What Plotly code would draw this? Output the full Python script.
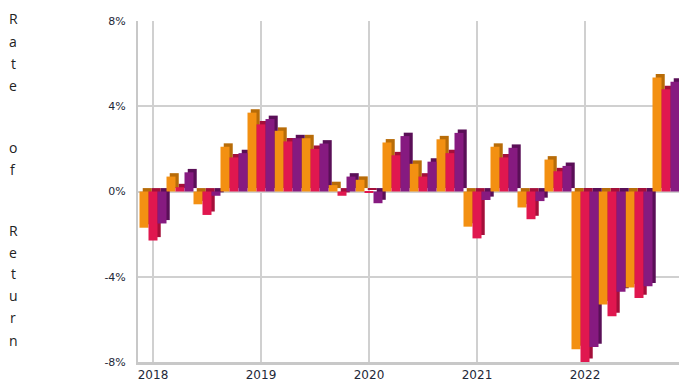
import plotly.graph_objects as go

# Quarterly rate of return (%) for three series, 2018 Q1 – 2022 Q4
quarters = [f"{y} Q{q}" for y in range(2018, 2023) for q in range(1, 5)]
series_a = [-1.7, 0.7, -0.6, 2.1, 3.7, 2.85, 2.5, 0.3,
            0.55, 2.3, 1.3, 2.45, -1.65, 2.1, -0.75, 1.5,
            -7.4, -5.3, -4.5, 5.35]
series_b = [-2.3, 0.2, -1.1, 1.6, 3.15, 2.35, 2.0, -0.2,
            -0.05, 1.7, 0.7, 1.8, -2.2, 1.6, -1.3, 0.95,
            -8.0, -5.85, -5.0, 4.8]
series_c = [-1.5, 0.9, -0.2, 1.8, 3.4, 2.5, 2.25, 0.7,
            -0.55, 2.6, 1.4, 2.75, -0.4, 2.05, -0.45, 1.2,
            -7.3, -4.7, -4.45, 5.15]
years = [2018, 2019, 2020, 2021, 2022]
y_ticks = [-8, -4, 0, 4, 8]
y_title = "Rate of Return"

front_colors = ["#F39012", "#E0174F", "#861A80"]
side_colors = ["#B86C08", "#A40F3A", "#5A0F57"]

# numeric position of each quarter (year + fraction)
xpos = [int(q[:4]) + (int(q[-1]) - 1) * 0.25 for q in quarters]

slot = 0.25 / 3          # width reserved for each series in a quarter
dx = 0.03                # depth shift to the right (years)
dy = 0.16                # depth shift upward (%)

fig = go.Figure()
all_series = [series_a, series_b, series_c]

# depth faces first so every front face sits above them
for i, vals in enumerate(all_series):
    off = -0.125 + i * slot + dx
    fig.add_trace(go.Bar(
        x=xpos, y=vals, base=[dy] * len(vals),
        width=slot, offset=off,
        marker=dict(color=side_colors[i], line=dict(width=0)),
        hoverinfo="skip", showlegend=False,
    ))
for i, vals in enumerate(all_series):
    off = -0.125 + i * slot
    fig.add_trace(go.Bar(
        x=xpos, y=vals,
        width=slot, offset=off,
        marker=dict(color=front_colors[i], line=dict(width=0)),
        showlegend=False,
    ))

plot_top, plot_bottom = 21, 362
x0 = 2018 - 15 / 108
x1 = x0 + 541 / 108

fig.update_layout(
    width=679, height=388,
    margin=dict(l=138, r=0, t=plot_top, b=388 - plot_bottom),
    barmode="overlay",
    paper_bgcolor="white", plot_bgcolor="white",
    font=dict(family="DejaVu Sans", size=11, color="#1E2838"),
    xaxis=dict(
        range=[x0, x1], tickvals=years, ticktext=[str(y) for y in years],
        showgrid=True, gridcolor="#D0D0D0", gridwidth=2,
        showline=True, linecolor="#C8C8C8", linewidth=3,
        zeroline=False, ticks="", tickfont=dict(size=12),
    ),
    yaxis=dict(
        range=[-8, 8], tickvals=y_ticks,
        ticktext=[f"{v}%" for v in y_ticks],
        showgrid=True, gridcolor="#D0D0D0", gridwidth=2,
        showline=True, linecolor="#C8C8C8", linewidth=2,
        zeroline=False, ticks="", ticklabelstandoff=8,
        tickfont=dict(size=11),
    ),
)

# vertical axis title, one letter per row (words separated by a wider gap)
letter_rows = [18, 42, 63, 85, None, 147, 170, None, 230, 252, 273, 295, 317, 340]
for ch, row in zip(y_title, letter_rows):
    if ch == " ":
        continue
    fig.add_annotation(
        text=ch, xref="paper", yref="paper",
        x=-125 / 541, y=(plot_bottom - row) / (plot_bottom - plot_top),
        xanchor="center", yanchor="middle", showarrow=False,
        font=dict(family="Open Sans", size=14, color="#222222"),
    )

fig.write_html("out.html")
